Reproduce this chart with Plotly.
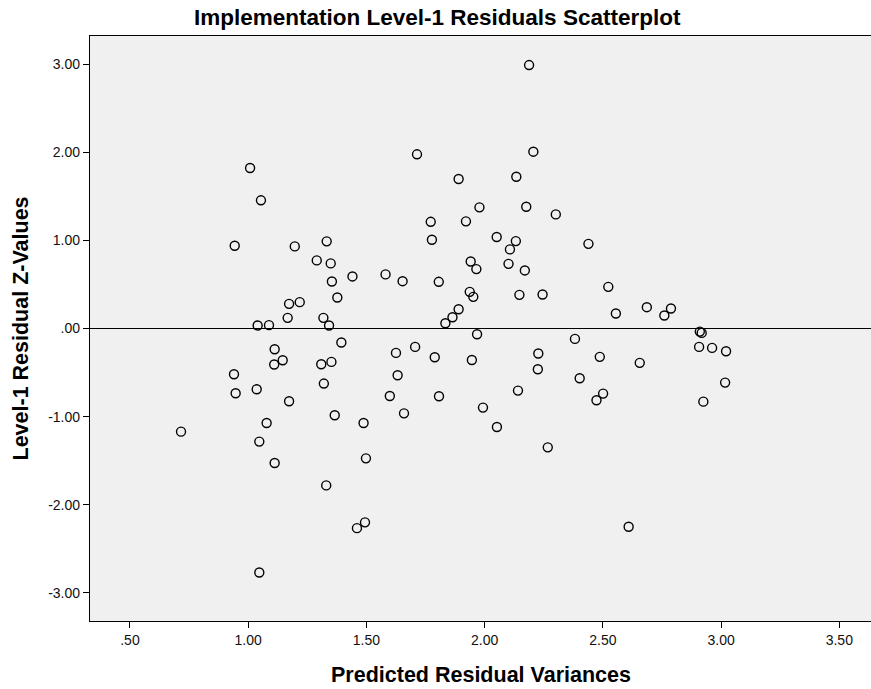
import plotly.graph_objects as go

predicted_variance = [
    1.008, 1.054, 0.943, 1.197, 1.332, 1.290, 1.349, 1.581, 1.441, 1.354,
    1.377, 1.173, 1.218, 1.167, 1.318, 1.040, 1.088, 1.342, 1.394, 1.112,
    1.146, 1.110, 1.309, 1.352, 0.940, 0.947, 1.036, 1.320, 1.173, 1.599,
    1.366, 1.078, 1.488, 0.716, 1.047, 1.112, 1.498, 1.330, 1.494, 1.460,
    1.047, 2.609, 2.188, 1.714, 2.206, 1.890, 2.134, 1.978, 2.176, 2.301,
    1.772, 1.921, 1.777, 2.051, 2.132, 2.107, 2.439, 1.941, 1.965, 2.101,
    2.170, 1.653, 1.806, 2.523, 1.937, 1.952, 2.147, 2.245, 2.555, 2.686,
    2.788, 2.760, 1.890, 1.864, 1.834, 1.968, 2.382, 1.625, 1.706, 1.789,
    1.946, 2.227, 2.225, 2.487, 2.656, 1.632, 2.402, 1.807, 2.141, 2.501,
    2.473, 1.659, 1.993, 2.052, 2.267, 2.910, 2.918, 2.907, 2.962, 3.021,
    3.017, 2.925,
]
residual_z = [
    1.822, 1.455, 0.939, 0.932, 0.989, 0.773, 0.739, 0.614, 0.591, 0.534,
    0.352, 0.280, 0.299, 0.121, 0.121, 0.034, 0.038, 0.034, -0.159, -0.235,
    -0.360, -0.409, -0.406, -0.379, -0.519, -0.735, -0.690, -0.625, -0.826, -0.766,
    -0.985, -1.072, -1.072, -1.171, -1.284, -1.527, -1.474, -1.781, -2.200, -2.266,
    -2.769, -2.250, 2.990, 1.977, 2.007, 1.697, 1.723, 1.375, 1.382, 1.295,
    1.211, 1.216, 1.007, 1.038, 0.992, 0.898, 0.961, 0.761, 0.674, 0.734,
    0.659, 0.537, 0.530, 0.473, 0.416, 0.359, 0.382, 0.386, 0.170, 0.242,
    0.227, 0.148, 0.219, 0.128, 0.060, -0.065, -0.118, -0.277, -0.209, -0.326,
    -0.357, -0.284, -0.462, -0.322, -0.390, -0.531, -0.565, -0.769, -0.705, -0.739,
    -0.815, -0.963, -0.898, -1.118, -1.349, -0.035, -0.050, -0.209, -0.220, -0.258,
    -0.614, -0.830,
]

x_tick_vals = [0.5, 1.0, 1.5, 2.0, 2.5, 3.0, 3.5]
x_tick_text = [".50", "1.00", "1.50", "2.00", "2.50", "3.00", "3.50"]
y_tick_vals = [-3, -2, -1, 0, 1, 2, 3]
y_tick_text = ["-3.00", "-2.00", "-1.00", ".00", "1.00", "2.00", "3.00"]

FONT = "Liberation Sans, Arial, sans-serif"

fig = go.Figure()
fig.add_trace(go.Scatter(
    x=predicted_variance, y=residual_z, mode="markers",
    marker=dict(symbol="circle-open", size=9, color="black",
                line=dict(width=1.4, color="black")),
    showlegend=False, hoverinfo="x+y",
))

fig.add_shape(type="line", xref="paper", yref="y", x0=0, x1=1, y0=0, y1=0,
              line=dict(color="black", width=1.2))

fig.update_layout(
    width=871, height=689,
    margin=dict(l=90, r=0, t=36, b=68, pad=0),
    paper_bgcolor="white", plot_bgcolor="#f0f0f0",
    font=dict(family=FONT, color="black", size=14),
    title=dict(text="<b>Implementation Level-1 Residuals Scatterplot</b>",
               xref="container", x=0.502, xanchor="center",
               yref="container", y=1 - 17 / 689, yanchor="middle",
               font=dict(family=FONT, size=22.5, color="black")),
    xaxis=dict(range=[0.331, 3.634], tickvals=x_tick_vals, ticktext=x_tick_text,
               showgrid=False, zeroline=False, showline=True, linecolor="black",
               linewidth=1.3, mirror=True, ticks="outside", ticklen=6,
               tickcolor="black", tickwidth=1.3,
               tickfont=dict(family=FONT, size=14, color="#111")),
    yaxis=dict(range=[-3.32, 3.32], tickvals=y_tick_vals, ticktext=y_tick_text,
               showgrid=False, zeroline=False, showline=True, linecolor="black",
               linewidth=1.3, ticks="outside", ticklen=6,
               tickcolor="black", tickwidth=1.3,
               tickfont=dict(family=FONT, size=14, color="#111")),
    annotations=[
        dict(text="<b>Predicted Residual Variances</b>", xref="paper", yref="paper",
             x=0.5, y=-54 / 585, xanchor="center", yanchor="middle",
             showarrow=False, font=dict(family=FONT, size=21.5, color="black")),
        dict(text="<b>Level-1 Residual Z-Values</b>", xref="paper", yref="paper",
             x=-70 / 781, y=0.5, xanchor="center", yanchor="middle", textangle=-90,
             showarrow=False, font=dict(family=FONT, size=21.5, color="black")),
    ],
)

fig.write_html("out.html", config={"displayModeBar": False},
               post_script="document.body.style.margin='0px';document.body.style.overflow='hidden';")
